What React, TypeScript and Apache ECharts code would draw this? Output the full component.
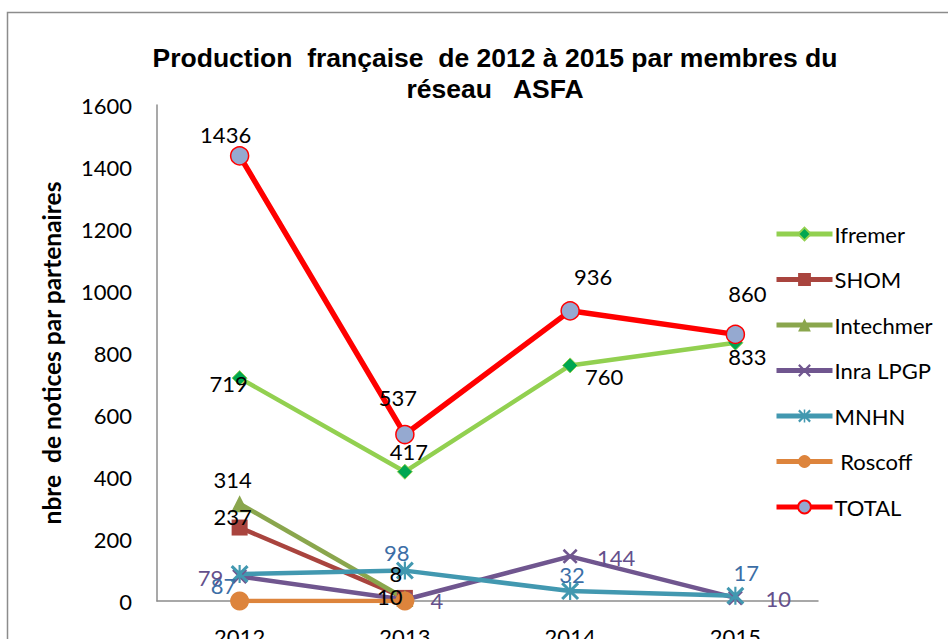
import React, { useEffect, useRef } from "react";
import * as echarts from "echarts";

const years = ["2012", "2013", "2014", "2015"];
const ifremer = [719, 417, 760, 833];
const shom = [237, 10, null, null];
const intechmer = [314, 8, null, null];
const inraLpgp = [79, 4, 144, 10];
const mnhn = [87, 98, 32, 17];
const roscoff = [0, 0, null, null];
const total = [1436, 537, 936, 860];

// label centre offsets (px) relative to each point
const offIfremer = [[-11, 5], [4, -20], [34, 11], [12, 14]];
const offShom = [[-7, -11], [-15, -1], [0, 0], [0, 0]];
const offIntechmer = [[-7, -24], [-9, -25], [0, 0], [0, 0]];
const offInra = [[-29, 1], [32, 1], [46, 1], [43, 1]];
const offMnhn = [[-16, 11], [-8, -18], [2, -17], [11, -23]];
const offTotal = [[-14, -21], [-7, -37], [23, -34], [12, -41]];

const FONT = "Lato, 'Open Sans', sans-serif";
const X_PATH = "path://M0,1.2L1.2,0L5,3.8L8.8,0L10,1.2L6.2,5L10,8.8L8.8,10L5,6.2L1.2,10L0,8.8L3.8,5Z";
const STAR_PATH = "path://M0,1.2L1.2,0L5,3.8L8.8,0L10,1.2L6.2,5L10,8.8L8.8,10L5,6.2L1.2,10L0,8.8L3.8,5ZM4.4,0L5.6,0L5.6,10L4.4,10Z";

function mk(
  name: string,
  values: (number | null)[],
  offsets: number[][] | null,
  color: string,
  labelColor: string,
  symbol: string,
  symbolSize: number,
  width: number,
  itemStyle: any
) {
  return {
    name,
    type: "line",
    data: values.map((v, i) => ({
      value: v,
      label: offsets ? { offset: offsets[i] } : undefined,
    })),
    symbol,
    symbolSize,
    showAllSymbol: true,
    lineStyle: { color, width },
    itemStyle,
    label: {
      show: !!offsets,
      position: "inside",
      color: labelColor,
      fontFamily: FONT,
      fontSize: 22,
    },
    emphasis: { disabled: true },
  };
}

export default function App() {
  const ref = useRef<HTMLDivElement>(null);
  useEffect(() => {
    if (!ref.current) return;
    const chart = echarts.init(ref.current, null, { renderer: "svg" });
    chart.setOption({
      animation: false,
      backgroundColor: "#ffffff",
      title: {
        text: "Production  française  de 2012 à 2015 par membres du\nréseau   ASFA",
        left: 490,
        textAlign: "center",
        top: 37,
        textStyle: {
          fontFamily: "'Liberation Sans', Arial, sans-serif",
          fontWeight: "bold",
          fontSize: 26.5,
          lineHeight: 31,
          color: "#000",
        },
      },
      graphic: [
        {
          type: "rect",
          shape: { x: 7.5, y: 12.5, width: 1000, height: 700 },
          style: { fill: "none", stroke: "#8c8c8c", lineWidth: 1.5 },
          silent: true,
        },
      ],
      legend: {
        orient: "vertical",
        left: 769,
        top: 218,
        itemWidth: 56,
        itemHeight: 16,
        itemGap: 23.5,
        lineStyle: { width: 5 },
        textStyle: { fontFamily: FONT, fontSize: 22, color: "#000", padding: [0, 0, 0, -3] },
        data: ["Ifremer", "SHOM", "Intechmer", "Inra LPGP", "MNHN", " Roscoff", "TOTAL"],
      },
      grid: { left: 157, top: 105, width: 661, height: 496, outerBoundsMode: "none", containLabel: false },
      xAxis: {
        type: "category",
        data: years,
        boundaryGap: true,
        axisLine: { lineStyle: { color: "#8c8c8c", width: 1.5 } },
        axisTick: { show: false },
        axisLabel: { color: "#000", fontFamily: FONT, fontSize: 22, margin: 24 },
      },
      yAxis: {
        type: "value",
        min: 0,
        max: 1600,
        interval: 200,
        name: "nbre  de notices par partenaires",
        nameLocation: "middle",
        nameGap: 93,
        nameTextStyle: {
          fontFamily: FONT,
          fontWeight: "bold",
          fontSize: 24.5,
          color: "#000",
        },
        splitLine: { show: false },
        axisLine: { show: true, lineStyle: { color: "#8c8c8c", width: 1.5 } },
        axisTick: { show: false },
        axisLabel: {
          color: "#000",
          fontFamily: FONT,
          fontSize: 22,
          margin: 25,
          formatter: (v: number) => String(v),
        },
      },
      series: [
        mk("Ifremer", ifremer, offIfremer, "#92d050", "#000", "diamond", 15, 4.5,
          { color: "#00a651", borderColor: "#92d050", borderWidth: 1 }),
        mk("SHOM", shom, offShom, "#a9443e", "#000", "rect", 16, 4.5,
          { color: "#a9443e" }),
        mk("Intechmer", intechmer, offIntechmer, "#8aa64d", "#000", "triangle", 17, 4.5,
          { color: "#8aa64d" }),
        mk("Inra LPGP", inraLpgp, offInra, "#70568f", "#64508c", X_PATH, 15, 4.5,
          { color: "#70568f" }),
        mk("MNHN", mnhn, offMnhn, "#4298b0", "#3c6ea6", STAR_PATH, 18, 4.5,
          { color: "#4298b0" }),
        mk(" Roscoff", roscoff, null, "#dd843c", "#000", "circle", 19, 4.5,
          { color: "#dd843c" }),
        mk("TOTAL", total, offTotal, "#ff0000", "#000", "circle", 18, 5.5,
          { color: "#95a9d0", borderColor: "#ff0000", borderWidth: 1.5 }),
      ],
    });
    return () => chart.dispose();
  }, []);
  return (
    <div
      ref={ref}
      style={{ position: "absolute", left: 0, top: 0, width: 948, height: 639 }}
    />
  );
}
